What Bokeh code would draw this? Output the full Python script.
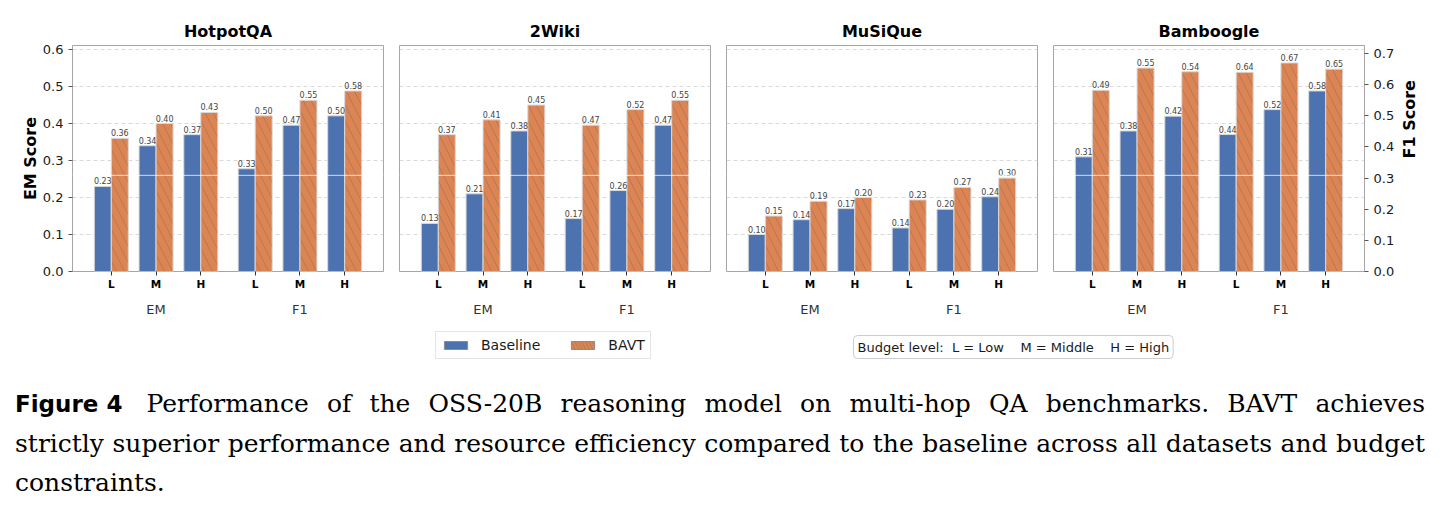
import math

from bokeh.core.properties import value
from bokeh.embed import file_html
from bokeh.layouts import column, row
from bokeh.models import (ColumnDataSource, Div, FactorRange, FixedTicker, Label, Legend,
                          LegendItem, LinearAxis, NumeralTickFormatter, Range1d, Span)
from bokeh.plotting import figure
from bokeh.resources import INLINE
from bokeh.transform import dodge

# ---- data -------------------------------------------------------------
datasets = ["HotpotQA", "2Wiki", "MuSiQue", "Bamboogle"]
metrics = ["EM", "F1"]
levels = ["L", "M", "H"]

hotpotqa_em_baseline = [0.23, 0.34, 0.37]
hotpotqa_em_bavt = [0.36, 0.40, 0.43]
hotpotqa_f1_baseline = [0.33, 0.47, 0.50]
hotpotqa_f1_bavt = [0.50, 0.55, 0.58]

wiki2_em_baseline = [0.13, 0.21, 0.38]
wiki2_em_bavt = [0.37, 0.41, 0.45]
wiki2_f1_baseline = [0.17, 0.26, 0.47]
wiki2_f1_bavt = [0.47, 0.52, 0.55]

musique_em_baseline = [0.10, 0.14, 0.17]
musique_em_bavt = [0.15, 0.19, 0.20]
musique_f1_baseline = [0.14, 0.20, 0.24]
musique_f1_bavt = [0.23, 0.27, 0.30]

bamboogle_em_baseline = [0.31, 0.38, 0.42]
bamboogle_em_bavt = [0.49, 0.55, 0.54]
bamboogle_f1_baseline = [0.44, 0.52, 0.58]
bamboogle_f1_bavt = [0.64, 0.67, 0.65]

em_ticks = [0.0, 0.1, 0.2, 0.3, 0.4, 0.5, 0.6]
f1_ticks = [0.0, 0.1, 0.2, 0.3, 0.4, 0.5, 0.6, 0.7]

series = {
    "HotpotQA": (hotpotqa_em_baseline, hotpotqa_em_bavt, hotpotqa_f1_baseline, hotpotqa_f1_bavt),
    "2Wiki": (wiki2_em_baseline, wiki2_em_bavt, wiki2_f1_baseline, wiki2_f1_bavt),
    "MuSiQue": (musique_em_baseline, musique_em_bavt, musique_f1_baseline, musique_f1_bavt),
    "Bamboogle": (bamboogle_em_baseline, bamboogle_em_bavt, bamboogle_f1_baseline, bamboogle_f1_bavt),
}

# ---- style ------------------------------------------------------------
FONT = "DejaVu Sans"
BLUE = "#4C72B0"
ORANGE = "#DD8452"
EDGE = "#d9d9d9"
FRAME = "#a6a6a6"
TEXT = "#1a1a1a"
BAR_W = 0.38
OFF = 0.19

# group factors carry a leading line break so the metric name sits a little
# lower beneath the L/M/H row
group_names = ["\n" + m for m in metrics]
factors = [(g, l) for g in group_names for l in levels]
x_range = FactorRange(*factors, group_padding=0.215, range_padding=0.367,
                      range_padding_units="absolute")
em_range = Range1d(0, 0.611)
f1_range = Range1d(0, 0.726)


def fmt(vals):
    return [f"{v:.2f}" for v in vals]


def make_panel(name, em_b, em_v, f1_b, f1_v, first, last):
    p = figure(x_range=x_range, y_range=em_range, frame_width=311, frame_height=226,
               output_backend="svg", toolbar_location=None, title=name,
               min_border_left=72 if first else 8, min_border_right=79 if last else 8,
               min_border_top=45, min_border_bottom=54)
    p.extra_y_ranges = {"f1": f1_range}
    p.outline_line_color = FRAME
    p.outline_line_width = 1

    p.title.align = "center"
    p.title.text_font = FONT
    p.title.text_font_size = "16px"
    p.title.text_font_style = "bold"
    p.title.text_color = "black"

    em_src = ColumnDataSource(dict(x=[(group_names[0], l) for l in levels], base=em_b,
                                   bavt=em_v, base_lbl=fmt(em_b), bavt_lbl=fmt(em_v)))
    f1_src = ColumnDataSource(dict(x=[(group_names[1], l) for l in levels], base=f1_b,
                                   bavt=f1_v, base_lbl=fmt(f1_b), bavt_lbl=fmt(f1_v)))

    for src, rname in ((em_src, "default"), (f1_src, "f1")):
        p.vbar(x=dodge("x", -OFF, range=p.x_range), top="base", width=BAR_W, source=src,
               y_range_name=rname, fill_color=BLUE, line_color=EDGE, line_width=1)
        p.vbar(x=dodge("x", OFF, range=p.x_range), top="bavt", width=BAR_W, source=src,
               y_range_name=rname, fill_color=ORANGE, line_color=EDGE, line_width=1,
               hatch_pattern="\\", hatch_color="#6f6f6f", hatch_alpha=0.55,
               hatch_scale=16, hatch_weight=0.8)
        for col, off in (("base", -OFF), ("bavt", OFF)):
            p.text(x=dodge("x", off, range=p.x_range), y=col, text=col + "_lbl", source=src,
                   y_range_name=rname, text_align="center", text_baseline="bottom",
                   y_offset=-2, text_font_size="8px", text_color="#444444",
                   text_font=value(FONT))

    p.add_layout(Span(location=0.26, dimension="width", line_color="white",
                      line_alpha=0.75, line_width=1))

    p.xgrid.visible = False
    p.ygrid.ticker = FixedTicker(ticks=em_ticks[1:])
    p.ygrid.grid_line_color = "#cfcfcf"
    p.ygrid.grid_line_dash = "4 3"
    p.ygrid.grid_line_width = 0.8

    xa = p.xaxis[0]
    xa.axis_line_color = None
    xa.major_tick_out = 4
    xa.major_tick_in = 0
    xa.major_tick_line_color = "#333333"
    xa.major_label_standoff = 2
    xa.major_label_text_font = FONT
    xa.major_label_text_font_size = "10.5px"
    xa.major_label_text_font_style = "bold"
    xa.major_label_text_color = "black"
    xa.group_text_font = FONT
    xa.group_text_font_size = "13px"
    xa.group_text_font_style = "normal"
    xa.group_text_color = "#333333"
    xa.group_text_line_height = 0.5
    xa.separator_line_color = None

    ya = p.yaxis[0]
    if first:
        ya.ticker = FixedTicker(ticks=em_ticks)
        ya.formatter = NumeralTickFormatter(format="0.0")
        ya.axis_line_color = None
        ya.major_tick_out = 4
        ya.major_tick_in = 0
        ya.minor_tick_line_color = None
        ya.major_tick_line_color = "#555555"
        ya.major_label_text_font = FONT
        ya.major_label_text_font_size = "13px"
        ya.major_label_text_color = TEXT
        ya.axis_label = "EM Score"
        ya.axis_label_text_font = FONT
        ya.axis_label_text_font_size = "16px"
        ya.axis_label_text_font_style = "bold"
        ya.axis_label_text_color = "black"
        ya.axis_label_standoff = 0
    else:
        ya.visible = False

    if last:
        ra = LinearAxis(y_range_name="f1", ticker=FixedTicker(ticks=f1_ticks),
                        formatter=NumeralTickFormatter(format="0.0"))
        ra.axis_line_color = None
        ra.major_tick_out = 4
        ra.major_tick_in = 0
        ra.minor_tick_line_color = None
        ra.major_tick_line_color = "#555555"
        ra.major_label_text_font = FONT
        ra.major_label_text_font_size = "13px"
        ra.major_label_text_color = TEXT
        ra.axis_label = "F1 Score"
        ra.axis_label_text_font = FONT
        ra.axis_label_text_font_size = "16px"
        ra.axis_label_text_font_style = "bold"
        ra.axis_label_text_color = "black"
        ra.axis_label_standoff = 12
        ra.axis_label_orientation = math.pi / 2
        p.add_layout(ra, "right")
    return p


panels = []
for i, name in enumerate(datasets):
    em_b, em_v, f1_b, f1_v = series[name]
    panels.append(make_panel(name, em_b, em_v, f1_b, f1_v, i == 0, i == len(datasets) - 1))

# ---- legend strip -----------------------------------------------------
lf = figure(width=1443, height=45, output_backend="svg", toolbar_location=None,
            x_range=Range1d(0, 1), y_range=Range1d(0, 1), min_border=0,
            x_axis_location=None, y_axis_location=None)
lf.grid.visible = False
lf.outline_line_color = None
# proxy bars kept outside the visible range; only their legend swatches show
r_base = lf.vbar(x=[-5], top=[-4], bottom=[-5], width=0.1, fill_color=BLUE,
                 line_color="#8c8c8c")
r_bavt = lf.vbar(x=[-5], top=[-4], bottom=[-5], width=0.1, fill_color=ORANGE,
                 line_color="#8c8c8c", hatch_pattern="\\", hatch_color="#6f6f6f",
                 hatch_alpha=0.55, hatch_scale=7, hatch_weight=0.8)
legend = Legend(items=[LegendItem(label="Baseline", renderers=[r_base]),
                       LegendItem(label="BAVT", renderers=[r_bavt])],
                orientation="horizontal", location=(435, 11), padding=5, spacing=28,
                margin=0, label_standoff=11, glyph_width=29, glyph_height=10,
                label_height=12, label_text_font=FONT, label_text_font_size="14px",
                label_text_color=TEXT, border_line_color="#cccccc",
                background_fill_color="white", background_fill_alpha=1)
lf.add_layout(legend)

nb = "\u00a0"
budget_text = f"Budget level:{nb*2}L = Low{nb*4}M = Middle{nb*4}H = High"
lf.add_layout(Label(x=853, y=23.5, x_units="screen", y_units="screen", text=budget_text,
                    text_font=FONT, text_font_size="13px", text_color=TEXT,
                    text_baseline="middle", background_fill_color="white",
                    border_line_color="#cccccc", padding=4, border_radius=4))

# ---- caption ----------------------------------------------------------
caption_html = (
    '<div style="width:1410px;margin-left:10px;padding-top:9px;'
    "font-family:'DejaVu Serif';font-size:25px;line-height:39px;color:#000;\">"
    '<div style="text-align:justify;text-align-last:justify;">'
    "<span style=\"display:inline-block;font-family:'DejaVu Sans';font-weight:bold;"
    'font-size:23px;margin-right:6px;">Figure 4</span> '
    "Performance of the OSS-20B reasoning model on multi-hop QA benchmarks. BAVT achieves</div>"
    '<div style="text-align:justify;text-align-last:justify;">'
    "strictly superior performance and resource efficiency compared to the baseline across all "
    "datasets and budget</div>"
    "<div>constraints.</div></div>"
)
caption = Div(text=caption_html, width=1443, height=144)

layout = column(row(*panels, spacing=0), lf, caption, spacing=0)

open("out.html", "w").write(file_html(layout, INLINE))
